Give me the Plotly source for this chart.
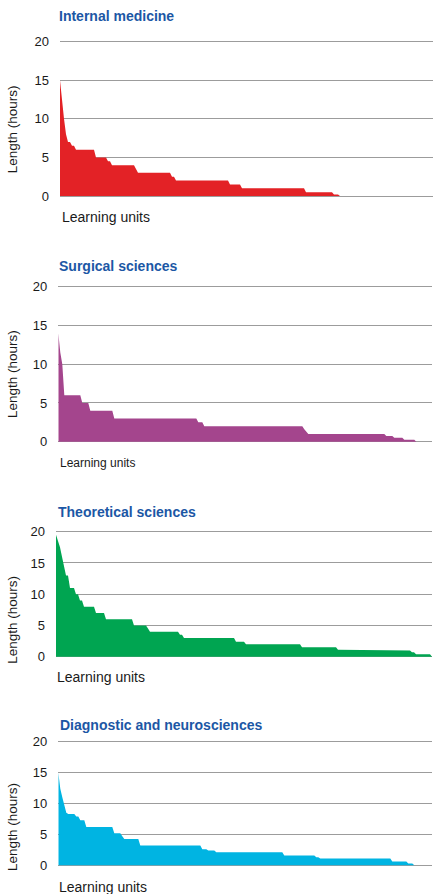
import plotly.graph_objects as go

# ---- data: learning-unit lengths (hours), sorted descending, run-length encoded ----
panel_titles = ["Internal medicine", "Surgical sciences", "Theoretical sciences",
                "Diagnostic and neurosciences"]

im_hours = [15, 12, 10, 8, 7, 6.5, 6, 5, 4.5, 4, 3.5, 3, 2.5, 2, 1.5, 1, 0.5, 0.2, 0]
im_units = [1, 1, 1, 1, 2, 2, 10, 6, 2, 12, 1, 17, 2, 27, 6, 32, 14, 3, 1]

ss_hours = [14, 11.5, 10, 6, 5, 4, 3, 2.5, 2, 1.6, 1.3, 1, 0.75, 0.5, 0.25, 0]
ss_units = [1, 1, 1, 9, 4, 12, 42, 3, 50, 1, 1, 39, 4, 5, 6, 1]

ts_hours = [19.5, 18.5, 17.5, 16, 14.5, 13, 11, 10, 9, 8, 7, 6, 5, 4.5, 4, 3.5, 3, 2.4,
            2, 1.5, 1.1, 1, 0.7, 0.4, 0]
ts_units = [1, 1, 1, 1, 1, 2, 3, 2, 2, 6, 5, 14, 7, 1, 15, 2, 26, 5, 28, 18, 2, 35, 2, 8, 1]

dn_hours = [15, 12.4, 11, 9.6, 8.5, 8.3, 7.9, 7.3, 6.2, 5.2, 4.7, 4.25, 3.2, 2.6, 2.4, 2.1,
            1.6, 1.3, 1.1, 0.6, 0.3, 0]
dn_units = [1, 1, 1, 1, 1, 4, 2, 3, 14, 4, 1, 8, 31, 3, 4, 34, 16, 2, 36, 8, 3, 1]

y_ticks = [0, 5, 10, 15, 20]
y_max = 20

series = [(im_hours, im_units), (ss_hours, ss_units), (ts_hours, ts_units), (dn_hours, dn_units)]

# ---- styling / layout ----
W, H = 433, 894
colors = ["#E32226", "#A4458D", "#00A551", "#00B4E2"]
title_color = "#1C57A5"
grid_color = "#9C9C9C"
font_family = "Liberation Sans, Arial, sans-serif"
PAD = 2.0  # px of breathing room so edge gridlines are drawn

# pixel geometry of each panel: (left, right, y of 20-gridline, y of 0-gridline)
boxes = [(60, 433, 41.7, 196), (58.3, 432, 286.7, 441.7),
         (56, 432, 531.7, 656.7), (58.3, 432, 741.7, 865.3)]
title_y = [15.5, 266, 511.7, 725]
title_x = [57.3, 57.3, 55.5, 58]
xt_y = [217, 462.7, 677.3, 887.3]
xt_x = [60, 58, 55, 57.3]
xt_size = [14, 12, 14, 14]
yt_y = [129, 373.8, 620, 826.7]
yt_x = [13.2, 13.2, 11.7, 13.2]

fig = go.Figure()
layout = dict(width=W, height=H, margin=dict(l=0, r=0, t=0, b=0, pad=0),
              paper_bgcolor="white", plot_bgcolor="white", showlegend=False,
              font=dict(family=font_family, color="#1a1a1a"))
annotations = []

for i, ((hours, units), (l, r, t, b)) in enumerate(zip(series, boxes)):
    ys = [h for h, n in zip(hours, units) for _ in range(n)]
    xs = list(range(len(ys)))
    sfx = "" if i == 0 else str(i + 1)
    ppu = (b - t) / y_max
    pad_u = PAD / ppu
    fig.add_trace(go.Scatter(x=xs, y=ys, mode="lines", fill="tozeroy",
                             fillcolor=colors[i], line=dict(color=colors[i], width=0),
                             xaxis="x" + sfx, yaxis="y" + sfx, hoverinfo="skip"))
    layout["xaxis" + sfx] = dict(domain=[l / W, min(1, r / W)], range=[0, (r - l) / 2],
                                 anchor="y" + sfx, showgrid=False, zeroline=False,
                                 showticklabels=False, ticks="", showline=False,
                                 automargin=False, fixedrange=True)
    layout["yaxis" + sfx] = dict(domain=[1 - (b + PAD) / H, 1 - (t - PAD) / H],
                                 range=[-pad_u, y_max + pad_u],
                                 anchor="x" + sfx, tickvals=y_ticks,
                                 showgrid=True, gridcolor=grid_color, gridwidth=1,
                                 zeroline=False, showline=False, ticks="",
                                 ticklabelstandoff=10, automargin=False, fixedrange=True,
                                 tickfont=dict(size=13, color="#1a1a1a"))
    annotations.append(dict(text="<b>" + panel_titles[i] + "</b>", xref="paper", yref="paper",
                            x=title_x[i] / W, y=1 - title_y[i] / H, xanchor="left",
                            yanchor="middle", showarrow=False,
                            font=dict(size=14, color=title_color)))
    annotations.append(dict(text="Learning units", xref="paper", yref="paper",
                            x=xt_x[i] / W, y=1 - xt_y[i] / H, xanchor="left",
                            yanchor="middle", showarrow=False,
                            font=dict(size=xt_size[i], color="#1a1a1a")))
    annotations.append(dict(text="Length (hours)", xref="paper", yref="paper",
                            x=yt_x[i] / W, y=1 - yt_y[i] / H, xanchor="center",
                            yanchor="middle", textangle=-90, showarrow=False,
                            font=dict(size=13.5, color="#1a1a1a")))

layout["annotations"] = annotations
fig.update_layout(**layout)
fig.write_html("out.html", config={"displayModeBar": False},
               post_script="document.body.style.margin='0';document.body.style.overflow='hidden';")
